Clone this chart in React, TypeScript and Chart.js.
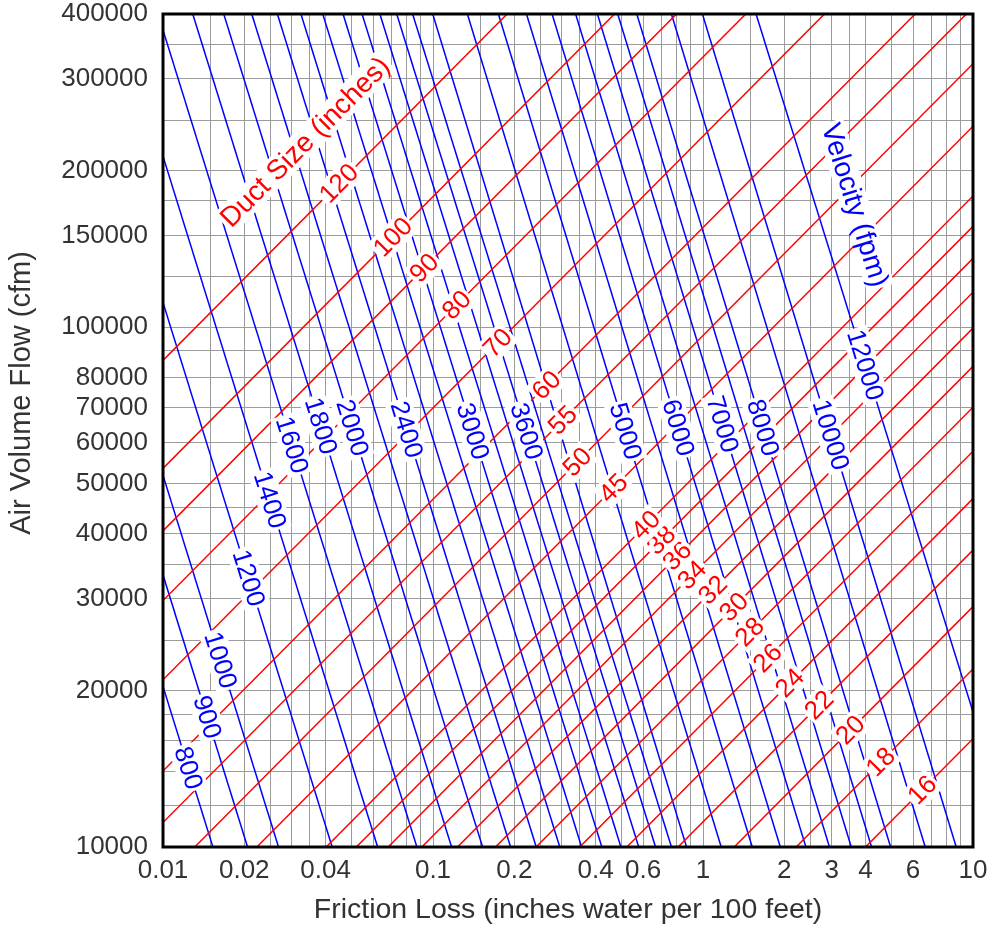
import React, { useEffect, useRef } from 'react';
import { Chart, registerables } from 'chart.js';

Chart.register(...registerables);

// ---- axis ticks / grid ----
const xGridValues = [0.01, 0.015, 0.02, 0.025, 0.03, 0.035, 0.04, 0.05, 0.06, 0.07, 0.08, 0.09,
  0.1, 0.15, 0.2, 0.25, 0.3, 0.35, 0.4, 0.5, 0.6, 0.7, 0.8, 0.9,
  1, 1.5, 2, 2.5, 3, 3.5, 4, 5, 6, 7, 8, 9, 10];
const xTickLabels = [0.01, 0.02, 0.04, 0.1, 0.2, 0.4, 0.6, 1, 2, 3, 4, 6, 10];
const yGridValues = [10000, 12000, 14000, 16000, 18000, 20000, 25000, 30000, 35000, 40000, 45000,
  50000, 60000, 70000, 80000, 90000, 100000, 125000, 150000, 175000, 200000, 250000, 300000, 350000, 400000];
const yTickLabels = [10000, 20000, 30000, 40000, 50000, 60000, 70000, 80000, 100000, 150000, 200000, 300000, 400000];

// ---- duct size lines (red): friction loss at 10000 cfm and at 400000 cfm ----
const ductSizes = [16, 18, 20, 22, 24, 26, 28, 30, 32, 34, 36, 38, 40, 45, 50, 55, 60, 70, 80, 90, 100, 120];
const ductLossAt10k = [3.998, 2.213, 1.305, 0.8084, 0.5224, 0.3495, 0.2409, 0.1704, 0.1232, 0.09091, 0.06824,
  0.052, 0.04021, 0.02226, 0.01311, 0.008126, 0.005252, 0.002423, 0.001239, 0.0006865, 0.0004042, 0.0001618];
const ductLossAt400k = [4649, 2574, 1517, 939.9, 607.4, 406.4, 280.2, 198.1, 143.3, 105.7, 79.33,
  60.47, 46.75, 25.88, 15.25, 9.45, 6.107, 2.817, 1.44, 0.7976, 0.47, 0.1882];
// flow (cfm) where each duct-size label sits on its line
const ductLabelFlow = [12870, 14570, 16790, 18750, 20670, 23100, 25910, 28940, 31200, 33350, 36270,
  38900, 41600, 49000, 55000, 66200, 77300, 93200, 110300, 129900, 149000, 189000];

// ---- velocity lines (blue): friction loss at 10000 cfm and at 400000 cfm ----
const velocities = [800, 900, 1000, 1200, 1400, 1600, 1800, 2000, 2200, 2400, 2600, 2800, 3000, 3200, 3400,
  3600, 3800, 4000, 4500, 5000, 5500, 6000, 6500, 7000, 7500, 8000, 9000, 10000, 12000];
const velLossAt10k = [0.015303, 0.020566, 0.026789, 0.042322, 0.062354, 0.08716, 0.11718, 0.15262, 0.19383,
  0.2412, 0.29483, 0.3551, 0.42212, 0.49655, 0.57808, 0.66726, 0.76425, 0.86928, 1.1681, 1.5219, 1.9336,
  2.4051, 2.9401, 3.5413, 4.2108, 4.9528, 6.6547, 8.667, 14.298];
const velLossAt400k = [0.001683, 0.002262, 0.002946, 0.004655, 0.006858, 0.009586, 0.012888, 0.016785, 0.021318,
  0.026527, 0.032427, 0.039055, 0.046426, 0.054612, 0.063578, 0.073387, 0.084055, 0.09977, 0.13407, 0.17468,
  0.22194, 0.27605, 0.33746, 0.40648, 0.48331, 0.56849, 0.76383, 0.9951, 1.5722];
const velLabelValues = [800, 900, 1000, 1200, 1400, 1600, 1800, 2000, 2400, 3000, 3600, 5000, 6000, 7000, 8000, 10000, 12000];
const velLabelFlow = [14190, 17780, 22880, 32900, 46500, 59300, 64500, 64000, 63500, 63000, 63000, 63000, 64000, 65000, 64000, 62000, 84500];

// ---- annotation anchors (friction, flow) ----
const ductTitle = { text: 'Duct Size (inches)', loss: 0.0336, flow: 226900 };
const velTitle = { text: 'Velocity (fpm)', loss: 3.656, flow: 171600 };

const FONT = '"Liberation Sans", Arial, Helvetica, sans-serif';
const RED = '#ff0000';
const BLUE = '#0000ff';
const GRID = '#9c9c9c';
const LABEL_SIZE = 26;

function near(a: number, b: number) {
  return Math.abs(a - b) / b < 1e-6;
}

const labelPlugin = {
  id: 'lineLabels',
  afterDatasetsDraw(chart: any) {
    const { ctx } = chart;
    const xs = chart.scales.x;
    const ys = chart.scales.y;
    const draw = (text: string, px: number, py: number, angle: number, color: string, size: number) => {
      ctx.save();
      ctx.translate(px, py);
      ctx.rotate(angle);
      ctx.font = `${size}px ${FONT}`;
      const w = ctx.measureText(text).width;
      const h = size * 0.8;
      ctx.fillStyle = '#ffffff';
      ctx.fillRect(-w / 2 - 2, -h / 2 - 3, w + 4, h + 6);
      ctx.fillStyle = color;
      ctx.textAlign = 'center';
      ctx.textBaseline = 'middle';
      ctx.fillText(text, 0, 1);
      ctx.restore();
    };
    const seg = (f1: number, q1: number, f2: number, q2: number) => ({
      x1: xs.getPixelForValue(f1), y1: ys.getPixelForValue(q1),
      x2: xs.getPixelForValue(f2), y2: ys.getPixelForValue(q2),
    });
    ductSizes.forEach((d, i) => {
      const s = seg(ductLossAt10k[i], 10000, ductLossAt400k[i], 400000);
      const py = ys.getPixelForValue(ductLabelFlow[i]);
      const px = s.x1 + (py - s.y1) * (s.x2 - s.x1) / (s.y2 - s.y1);
      const ang = Math.atan2(s.y2 - s.y1, s.x2 - s.x1);
      draw(String(d), px, py, ang, RED, LABEL_SIZE);
    });
    velLabelValues.forEach((v, k) => {
      const i = velocities.indexOf(v);
      const s = seg(velLossAt10k[i], 10000, velLossAt400k[i], 400000);
      const py = ys.getPixelForValue(velLabelFlow[k]);
      const px = s.x1 + (py - s.y1) * (s.x2 - s.x1) / (s.y2 - s.y1);
      const ang = Math.atan2(s.y1 - s.y2, s.x1 - s.x2);
      draw(String(v), px, py, ang, BLUE, LABEL_SIZE);
    });
    {
      const s = seg(ductLossAt10k[0], 10000, ductLossAt400k[0], 400000);
      const ang = Math.atan2(s.y2 - s.y1, s.x2 - s.x1);
      draw(ductTitle.text, xs.getPixelForValue(ductTitle.loss), ys.getPixelForValue(ductTitle.flow), ang, RED, 28);
    }
    {
      const i = velocities.length - 1;
      const s = seg(velLossAt10k[i], 10000, velLossAt400k[i], 400000);
      const ang = Math.atan2(s.y1 - s.y2, s.x1 - s.x2);
      draw(velTitle.text, xs.getPixelForValue(velTitle.loss), ys.getPixelForValue(velTitle.flow), ang, BLUE, 28);
    }
  },
  afterDraw(chart: any) {
    const { ctx, chartArea: a } = chart;
    ctx.save();
    ctx.strokeStyle = '#000000';
    ctx.lineWidth = 3;
    ctx.strokeRect(a.left, a.top, a.right - a.left, a.bottom - a.top);
    ctx.translate(22, 393);
    ctx.rotate(-Math.PI / 2);
    ctx.font = `29px ${FONT}`;
    ctx.fillStyle = '#333333';
    ctx.textAlign = 'center';
    ctx.textBaseline = 'middle';
    ctx.fillText('Air Volume Flow (cfm)', 0, 0);
    ctx.restore();
  },
};

export default function App() {
  const ref = useRef<HTMLCanvasElement | null>(null);
  useEffect(() => {
    if (!ref.current) return;
    const datasets: any[] = [];
    ductSizes.forEach((d, i) => {
      datasets.push({
        label: `${d} in`,
        data: [{ x: ductLossAt10k[i], y: 10000 }, { x: ductLossAt400k[i], y: 400000 }],
        borderColor: RED, borderWidth: 1.5, pointRadius: 0, showLine: true, fill: false,
      });
    });
    velocities.forEach((v, i) => {
      datasets.push({
        label: `${v} fpm`,
        data: [{ x: velLossAt10k[i], y: 10000 }, { x: velLossAt400k[i], y: 400000 }],
        borderColor: BLUE, borderWidth: 1.5, pointRadius: 0, showLine: true, fill: false,
      });
    });
    const tickFont = { family: FONT, size: 26, lineHeight: 1 };
    const chart = new Chart(ref.current, {
      type: 'scatter',
      data: { datasets },
      options: {
        responsive: false,
        animation: false,
        devicePixelRatio: 1,
        layout: { padding: { top: 14, right: 19, left: 0, bottom: 0 } },
        plugins: { legend: { display: false }, tooltip: { enabled: false } },
        scales: {
          x: {
            type: 'logarithmic', min: 0.01, max: 10,
            afterBuildTicks: (s: any) => { s.ticks = xGridValues.map((v) => ({ value: v })); },
            afterFit: (s: any) => { s.height = 81; },
            grid: { color: GRID, lineWidth: 1, drawTicks: true, tickLength: 11, tickColor: 'rgba(0,0,0,0)' },
            border: { display: false },
            ticks: {
              autoSkip: false, maxRotation: 0, minRotation: 0, padding: 0, color: '#333333', font: tickFont,
              callback: (v: any) => (xTickLabels.some((t) => near(Number(v), t)) ? String(v) : ''),
            },
            title: {
              display: true, text: 'Friction Loss (inches water per 100 feet)', color: '#333333',
              font: { family: FONT, size: 28.5, lineHeight: 1 }, padding: { top: 0, bottom: 4 },
            },
          },
          y: {
            type: 'logarithmic', min: 10000, max: 400000,
            afterBuildTicks: (s: any) => { s.ticks = yGridValues.map((v) => ({ value: v })); },
            afterFit: (s: any) => { s.width = 163; },
            grid: { color: GRID, lineWidth: 1, drawTicks: true, tickLength: 15, tickColor: 'rgba(0,0,0,0)' },
            border: { display: false },
            ticks: {
              autoSkip: false, padding: 0, color: '#333333', font: tickFont,
              callback: (v: any) => (yTickLabels.some((t) => near(Number(v), t)) ? String(v) : ''),
            },
          },
        },
      } as any,
      plugins: [labelPlugin],
    });
    return () => chart.destroy();
  }, []);
  return (
    <div style={{ position: 'absolute', left: 0, top: 0, width: 992, height: 928, background: '#ffffff' }}>
      <canvas ref={ref} width={992} height={928} style={{ display: 'block' }} />
    </div>
  );
}
